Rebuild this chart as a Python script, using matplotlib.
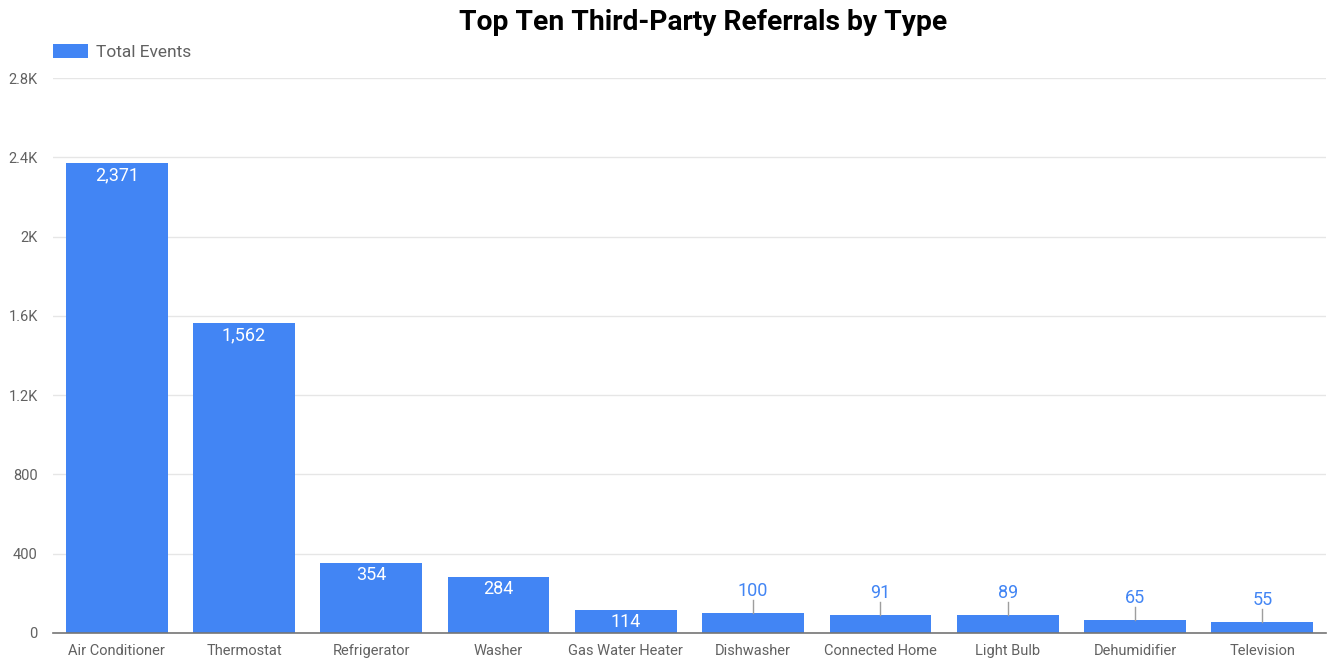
import matplotlib
matplotlib.use("Agg")
import matplotlib.pyplot as plt
from matplotlib.ticker import FixedLocator, FixedFormatter

categories = ["Air Conditioner", "Thermostat", "Refrigerator", "Washer", "Gas Water Heater",
              "Dishwasher", "Connected Home", "Light Bulb", "Dehumidifier", "Television"]
values = [2371, 1562, 354, 284, 114, 100, 91, 89, 65, 55]
series_name = "Total Events"
yticks = [0, 400, 800, 1200, 1600, 2000, 2400, 2800]
ytick_labels = ["0", "400", "800", "1.2K", "1.6K", "2K", "2.4K", "2.8K"]
title = "Top Ten Third-Party Referrals by Type"

plt.rcParams['font.family'] = ['Roboto', 'DejaVu Sans']
BLUE = "#4285F4"
GRAY = "#616161"

W, H = 1329, 659
fig = plt.figure(figsize=(W / 100, H / 100), dpi=100)
ax = fig.add_axes([53 / W, 1 - 633 / H, (1326 - 53) / W, (633 - 78) / H])

x = list(range(len(categories)))
bars = ax.bar(x, values, width=0.8, color=BLUE, label=series_name, zorder=3)
ax.set_xlim(-0.5, len(categories) - 0.5)
ax.set_ylim(0, 2800)

ax.yaxis.set_major_locator(FixedLocator(yticks))
ax.yaxis.set_major_formatter(FixedFormatter(ytick_labels))
ax.set_xticks(x)
ax.set_xticklabels(categories)
ax.tick_params(axis='both', length=0, labelsize=10.5, labelcolor=GRAY)
ax.tick_params(axis='y', pad=11)
ax.tick_params(axis='x', pad=8)
ax.grid(axis='y', color="#e6e6e6", linewidth=1, zorder=0)
for s in ["top", "right", "left"]:
    ax.spines[s].set_visible(False)
ax.spines["bottom"].set_color("#757575")
ax.spines["bottom"].set_linewidth(1.2)
ax.spines["bottom"].set_zorder(4)

px = 2800 / (633 - 78)  # data units per pixel
for xi, v in zip(x, values):
    label = f"{v:,}"
    if v >= 110:
        ax.text(xi, v - 12 * px, label, ha='center', va='center', color='white', fontsize=13, zorder=5)
    else:
        ax.plot([xi, xi], [v, v + 13 * px], color="#9e9e9e", linewidth=1, zorder=4)
        ax.text(xi, v + 22 * px, label, ha='center', va='center', color=BLUE, fontsize=13, zorder=5)

leg = ax.legend(loc='center left', bbox_to_anchor=(53 / W, 1 - 52 / H), bbox_transform=fig.transFigure,
                frameon=False, fontsize=12.5,
                handlelength=2.0, handleheight=0.92, borderaxespad=0, borderpad=0,
                handletextpad=0.46, labelcolor=GRAY)

fig.text(703 / W, 1 - 23 / H, title, ha='center', va='center', fontsize=20.3, fontweight='bold', color='black')

fig.savefig("out.png", dpi=100, facecolor='white')
